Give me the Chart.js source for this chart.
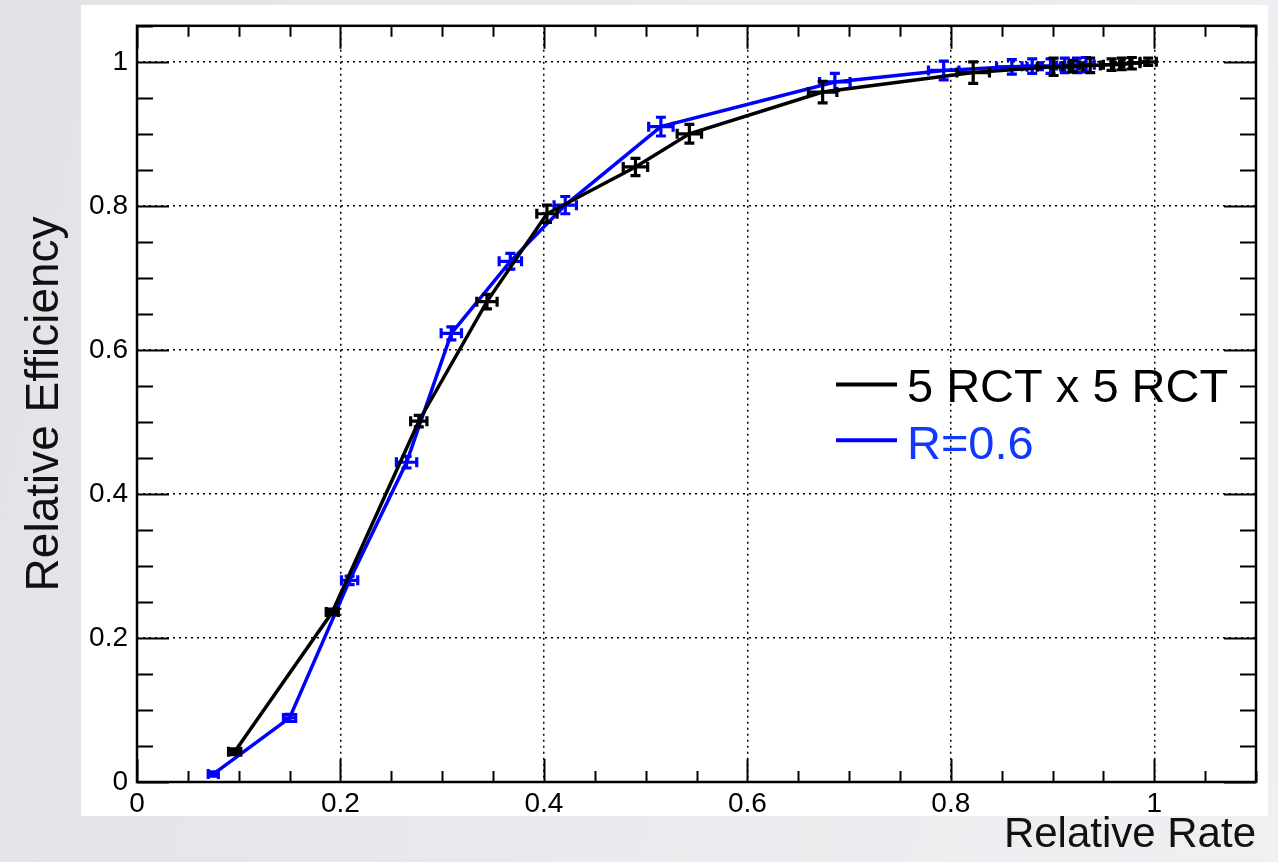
<!DOCTYPE html>
<html><head><meta charset="utf-8">
<script src="https://cdn.jsdelivr.net/npm/chart.js@4.4.1/dist/chart.umd.min.js"></script>
<style>
html,body{margin:0;padding:0;width:1278px;height:862px;overflow:hidden;background:linear-gradient(100deg,#e1e3e7 0%,#e8eaed 50%,#eef0f2 100%);}
#panel{position:absolute;left:81px;top:5px;width:1187px;height:811px;background:#ffffff;}
#wrap{position:absolute;left:0;top:0;width:1278px;height:862px;}
</style></head><body>
<div id="panel"></div>
<div id="wrap"><canvas id="c" width="1278" height="862"></canvas></div>
<script>
// ---- data ----
const seriesNames = ['5 RCT x 5 RCT', 'R=0.6'];
const xTickLabels = ['0', '0.2', '0.4', '0.6', '0.8', '1'];
const yTickLabels = ['0', '0.2', '0.4', '0.6', '0.8', '1'];

const rctX    = [0.096, 0.192, 0.277, 0.344, 0.403, 0.490, 0.543, 0.674, 0.822, 0.901, 0.920, 0.937, 0.958, 0.968, 0.978, 0.994];
const rctY    = [0.042, 0.236, 0.501, 0.667, 0.789, 0.854, 0.900, 0.958, 0.985, 0.993, 0.994, 0.995, 0.996, 0.997, 0.998, 1.000];
const rctXErr = [0.006, 0.006, 0.008, 0.010, 0.010, 0.012, 0.012, 0.014, 0.016, 0.016, 0.010, 0.010, 0.008, 0.008, 0.008, 0.008];
const rctYErr = [0.004, 0.004, 0.008, 0.010, 0.012, 0.012, 0.013, 0.015, 0.015, 0.012, 0.008, 0.010, 0.008, 0.008, 0.008, 0.005];

const r06X    = [0.075, 0.150, 0.209, 0.265, 0.309, 0.367, 0.421, 0.515, 0.686, 0.793, 0.860, 0.880, 0.898, 0.912, 0.924, 0.933];
const r06Y    = [0.011, 0.089, 0.280, 0.444, 0.623, 0.723, 0.801, 0.910, 0.972, 0.988, 0.993, 0.994, 0.994, 0.995, 0.995, 0.996];
const r06XErr = [0.005, 0.006, 0.008, 0.010, 0.010, 0.011, 0.011, 0.012, 0.015, 0.015, 0.015, 0.010, 0.010, 0.008, 0.008, 0.008];
const r06YErr = [0.003, 0.005, 0.006, 0.008, 0.009, 0.011, 0.012, 0.013, 0.012, 0.013, 0.010, 0.010, 0.010, 0.010, 0.010, 0.010];

// ---- styles ----
const BLACK = '#000000';
const BLUE = '#0000ff';
const BLUE_TEXT = '#1038ff';
const FONT = "'Liberation Sans', Arial, Helvetica, sans-serif";

function pts(xs, ys) { return xs.map((x, i) => ({ x: x, y: ys[i] })); }

const errors = [
  { xe: rctXErr, ye: rctYErr },
  { xe: r06XErr, ye: r06YErr }
];

const errorBarPlugin = {
  id: 'errorBars',
  afterDatasetDraw(chart, args) {
    const i = args.index;
    const ds = chart.data.datasets[i];
    const err = errors[i];
    const xs = chart.scales.x, ys = chart.scales.y;
    const ctx = chart.ctx;
    const cap = 5;
    ctx.save();
    ctx.strokeStyle = ds.borderColor;
    ctx.lineWidth = 3.2;
    ctx.lineCap = 'butt';
    ds.data.forEach((p, k) => {
      const px = xs.getPixelForValue(p.x), py = ys.getPixelForValue(p.y);
      const x1 = xs.getPixelForValue(p.x - err.xe[k]), x2 = xs.getPixelForValue(p.x + err.xe[k]);
      const y1 = ys.getPixelForValue(p.y - err.ye[k]), y2 = ys.getPixelForValue(p.y + err.ye[k]);
      ctx.beginPath();
      ctx.moveTo(x1, py); ctx.lineTo(x2, py);
      ctx.moveTo(x1, py - cap); ctx.lineTo(x1, py + cap);
      ctx.moveTo(x2, py - cap); ctx.lineTo(x2, py + cap);
      ctx.moveTo(px, y1); ctx.lineTo(px, y2);
      ctx.moveTo(px - cap, y1); ctx.lineTo(px + cap, y1);
      ctx.moveTo(px - cap, y2); ctx.lineTo(px + cap, y2);
      ctx.stroke();
    });
    ctx.restore();
  }
};

const frameTicksPlugin = {
  id: 'frameTicks',
  beforeDatasetsDraw(chart) {
    const ctx = chart.ctx, a = chart.chartArea;
    const xs = chart.scales.x, ys = chart.scales.y;
    ctx.save();
    ctx.strokeStyle = '#000';
    ctx.lineWidth = 2;
    ctx.beginPath();
    for (let k = 0; k <= 22; k++) {
      const v = k * 0.05;
      if (v > xs.max + 1e-9) break;
      const px = Math.round(xs.getPixelForValue(v)) + 0.5;
      const len = (k % 4 === 0) ? 23 : 11;
      ctx.moveTo(px, a.bottom); ctx.lineTo(px, a.bottom - len);
      ctx.moveTo(px, a.top); ctx.lineTo(px, a.top + len);
    }
    for (let k = 0; k <= 21; k++) {
      const v = k * 0.05;
      if (v > ys.max + 1e-9) break;
      const py = Math.round(ys.getPixelForValue(v)) + 0.5;
      const len = (k % 4 === 0) ? 32 : 16;
      ctx.moveTo(a.left, py); ctx.lineTo(a.left + len, py);
      ctx.moveTo(a.right, py); ctx.lineTo(a.right - len, py);
    }
    ctx.stroke();
    ctx.lineWidth = 2.5;
    ctx.strokeRect(a.left, a.top, a.right - a.left, a.bottom - a.top);
    ctx.restore();
  }
};

const innerLegendPlugin = {
  id: 'innerLegend',
  afterDraw(chart) {
    const ctx = chart.ctx, a = chart.chartArea;
    const w = a.right - a.left, h = a.bottom - a.top;
    const lx1 = a.left + 0.6247 * w, lx2 = a.left + 0.6792 * w, tx = a.left + 0.6881 * w;
    const rows = [
      { lineY: a.top + 0.4743 * h, baseY: a.top + 0.4980 * h, color: BLACK, textColor: BLACK },
      { lineY: a.top + 0.5481 * h, baseY: a.top + 0.5731 * h, color: BLUE, textColor: BLUE_TEXT }
    ];
    ctx.save();
    ctx.font = "47px " + FONT;
    ctx.textAlign = 'left';
    ctx.textBaseline = 'alphabetic';
    rows.forEach((r, i) => {
      ctx.strokeStyle = r.color;
      ctx.lineWidth = 4;
      ctx.beginPath();
      ctx.moveTo(lx1, r.lineY); ctx.lineTo(lx2, r.lineY);
      ctx.stroke();
      ctx.fillStyle = r.textColor;
      ctx.fillText(chart.data.datasets[i].label, tx, r.baseY);
    });
    ctx.restore();
  }
};

new Chart(document.getElementById('c'), {
  type: 'line',
  data: {
    datasets: [
      { label: seriesNames[0], data: pts(rctX, rctY), borderColor: BLACK, backgroundColor: BLACK, borderWidth: 3.5, pointRadius: 0, tension: 0, fill: false },
      { label: seriesNames[1], data: pts(r06X, r06Y), borderColor: BLUE, backgroundColor: BLUE, borderWidth: 3.5, pointRadius: 0, tension: 0, fill: false }
    ]
  },
  options: {
    responsive: false,
    animation: false,
    devicePixelRatio: 1,
    parsing: true,
    layout: { padding: { left: 0, top: 23, right: 22, bottom: 0 } },
    plugins: { legend: { display: false }, tooltip: { enabled: false }, title: { display: false } },
    scales: {
      x: {
        type: 'linear', min: 0, max: 1.1,
        afterFit(scale) { scale.height = 80; },
        ticks: {
          stepSize: 0.2, includeBounds: false, padding: 5, maxRotation: 0, autoSkip: false,
          color: '#000', font: { family: FONT, size: 28 },
          callback: (v, i) => xTickLabels[i]
        },
        grid: { display: true, color: '#000', lineWidth: 1.5, drawTicks: false },
        border: { display: false, dash: [2, 4] },
        title: { display: true, text: 'Relative Rate', align: 'end', color: '#111', font: { family: FONT, size: 42, lineHeight: 1 }, padding: { top: 0, bottom: 6 } }
      },
      y: {
        type: 'linear', min: 0, max: 1.05,
        afterFit(scale) { scale.width = 137; },
        ticks: {
          stepSize: 0.2, includeBounds: false, padding: 9, autoSkip: false,
          color: '#000', font: { family: FONT, size: 28 },
          callback: (v, i) => yTickLabels[i]
        },
        grid: { display: true, color: '#000', lineWidth: 1.5, drawTicks: false },
        border: { display: false, dash: [2, 4] },
        title: { display: true, text: 'Relative Efficiency', align: 'center', color: '#111', font: { family: FONT, size: 46, lineHeight: 1 }, padding: { top: 22, bottom: 0 } }
      }
    }
  },
  plugins: [frameTicksPlugin, errorBarPlugin, innerLegendPlugin]
});
</script>
</body></html>
